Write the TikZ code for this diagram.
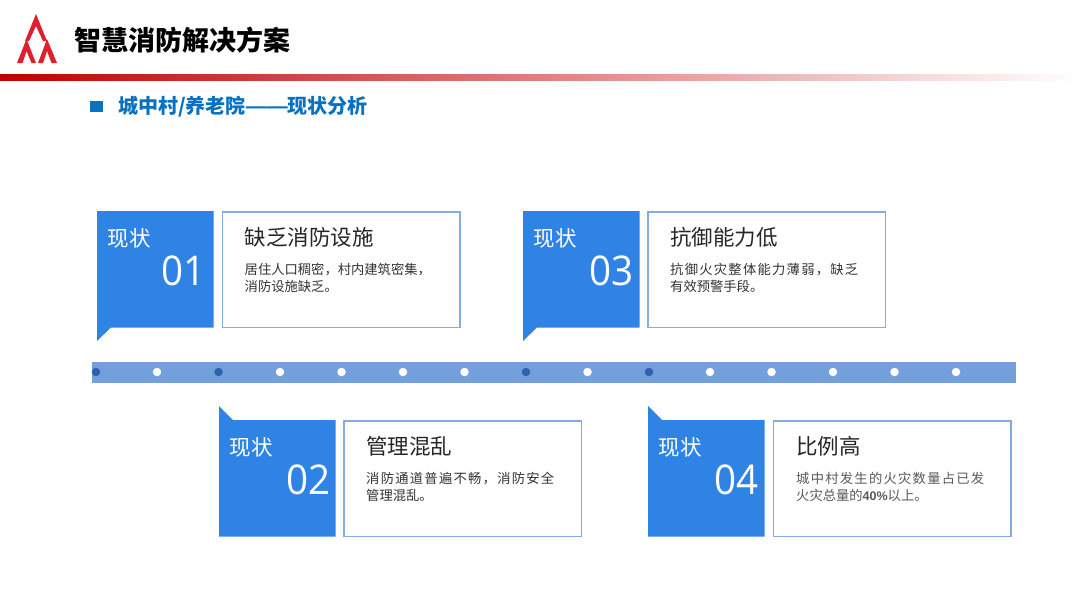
\documentclass[tikz,border=0pt]{standalone}
\usepackage{fontspec}
\setmainfont{Noto Sans CJK SC}
\newfontfamily\latinf[FakeStretch=0.94]{Open Sans}
\newfontfamily\dashf{Liberation Sans}
\definecolor{blueA}{HTML}{2E83E4}
\definecolor{edgeA}{HTML}{86ABE2}
\definecolor{barA}{HTML}{739FDD}
\definecolor{dotA}{HTML}{2F62AE}
\definecolor{headA}{HTML}{0A70C0}
\definecolor{redA}{HTML}{E01F2D}
\newcommand{\spaced}[1]{{\addfontfeature{LetterSpace=9.5}#1}}
\tikzset{
 tagbox/.style={fill=blueA,draw=none},
 card/.style={draw=edgeA,line width=1.6pt,fill=white,minimum width=237.5pt,minimum height=115.5pt,anchor=north west,inner sep=0pt},
 tagword/.style={text=white,font=\fontsize{21.5}{21.5}\selectfont,anchor=west,inner sep=0pt},
 tagnum/.style={text=white,font=\latinf\fontsize{41}{41}\selectfont,anchor=east,inner sep=0pt},
 cardtitle/.style={text=black!85,font=\fontsize{21.5}{21.5}\selectfont,anchor=west,inner sep=0pt},
 cardtext/.style={text=black!80,font=\fontsize{13.3}{17}\selectfont,anchor=north west,inner sep=0pt,align=left},
 wdot/.style={circle,fill=white,minimum size=8.5pt,inner sep=0pt},
 bdot/.style={circle,fill=dotA,minimum size=8.5pt,inner sep=0pt},
 logo/.style={fill=redA,draw=none}
}
\begin{document}
\begin{tikzpicture}[x=1pt,y=-1pt]
\useasboundingbox (0,0) rectangle (1080,608);
\fill[white] (0,0) rectangle (1080,608);
% logo
\fill[logo] (36,14) -- (47,41) -- (43,41) -- (36,26) -- (29,41) -- (25,41) -- cycle;
\fill[logo] (26.5,39) -- (36,63) -- (31.5,63) -- (26.5,51) -- (22.5,63) -- (17,63) -- cycle;
\fill[logo] (47,39) -- (57,63) -- (51.5,63) -- (47,51) -- (43,63) -- (38,63) -- cycle;
\node[font=\bfseries\fontsize{27}{27}\selectfont,text=black,anchor=west,inner sep=0pt] (title) at (74,40) {智慧消防解决方案};
\shade[left color=red!75!black,right color=white] (0,74) rectangle (1080,80);
\fill[headA] (90,100.5) rectangle (102.5,112);
\node[font=\bfseries\fontsize{20}{20}\selectfont,text=headA,anchor=west,inner sep=0pt] (sub) at (118,107) {城中村/养老院{\dashf\fontsize{21}{21}\selectfont ——}现状分析};
% bar
\fill[barA] (91.5,361.5) rectangle (1016,383);
\foreach \x/\s/\n in {96/bdot/a,157/wdot/b,218.5/bdot/c,280/wdot/d,341.5/wdot/e,403/wdot/f,464.5/wdot/g,526/bdot/h,587.5/wdot/i,649/bdot/j,710/wdot/k,771.5/wdot/l,833/wdot/m,894.5/wdot/n,956/wdot/o}
  \node[\s] (d\n) at (\x,372) {};
% tag 01
\fill[tagbox] (97,211) -- (213.5,211) -- (213.5,327.5) -- (111,327.5) -- (97,341) -- cycle;
\node[tagword] (w1) at (107.5,238) {现状};
\node[tagnum] (n1) at (206,270.5) {01};
\node[card] (c1) at (221.5,211) {};
\node[cardtitle] (t1) at (244.5,237.5) {缺乏消防设施};
\node[cardtext] (x1) at (244.5,263) {居住人口稠密，村内建筑密集，\\消防设施缺乏。};
% tag 03
\fill[tagbox] (523,211) -- (639.5,211) -- (639.5,327.5) -- (537,327.5) -- (523,341) -- cycle;
\node[tagword] (w3) at (533.5,238) {现状};
\node[tagnum] (n3) at (634,270.5) {03};
\node[card] (c3) at (647,211) {};
\node[cardtitle] (t3) at (670,237.5) {抗御能力低};
\node[cardtext] (x3) at (670,263) {\spaced{抗御火灾整体能力薄弱，缺乏}\\有效预警手段。};
% tag 02
\fill[tagbox] (219,406) -- (233,420) -- (335.5,420) -- (335.5,536.5) -- (219,536.5) -- cycle;
\node[tagword] (w2) at (229.5,447) {现状};
\node[tagnum] (n2) at (331,479.5) {02};
\node[card] (c2) at (343,420) {};
\node[cardtitle] (t2) at (366,446.5) {管理混乱};
\node[cardtext] (x2) at (366,472) {\spaced{消防通道普遍不畅，消防安全}\\管理混乱。};
% tag 04
\fill[tagbox] (648,406) -- (662,420) -- (764.5,420) -- (764.5,536.5) -- (648,536.5) -- cycle;
\node[tagword] (w4) at (658.5,447) {现状};
\node[tagnum] (n4) at (759,479.5) {04};
\node[card] (c4) at (772.5,420) {};
\node[cardtitle] (t4) at (796,446.5) {比例高};
\node[cardtext,text=black!65] (x4) at (796,472) {\spaced{城中村发生的火灾数量占已发}\\火灾总量的{\dashf\bfseries\fontsize{12.5}{17}\selectfont 40\%}以上。};
\end{tikzpicture}
\end{document}
